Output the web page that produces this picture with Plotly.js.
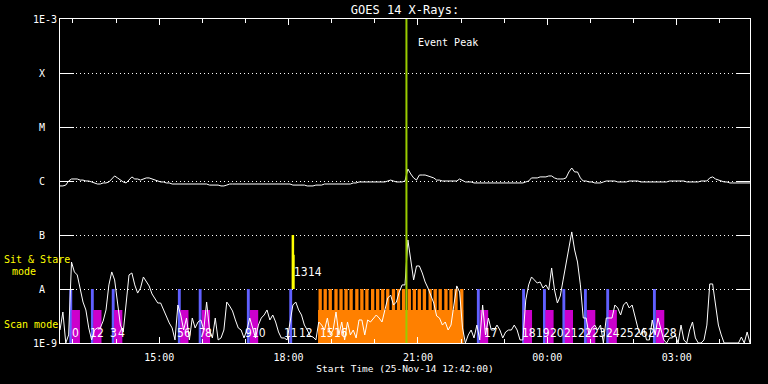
<!DOCTYPE html>
<html>
<head>
<meta charset="utf-8">
<script src="https://cdn.plot.ly/plotly-3.0.1.min.js"></script>
<style>html,body{margin:0;padding:0;background:#000;}#chart{width:768px;height:384px;}</style>
</head>
<body>
<div id="chart"></div>
<script>
// ---- time stamps (HH:MM, 25-Nov-14 12:42 .. 26-Nov-14 04:42), 4-minute samples
const times = [
'12:42','12:46','12:50','12:54','12:58','13:02','13:06','13:10','13:14','13:18','13:22','13:26','13:30','13:34','13:38',
'13:42','13:46','13:50','13:54','13:58','14:02','14:06','14:10','14:14','14:18','14:22','14:26','14:30','14:34','14:38',
'14:42','14:46','14:50','14:54','14:58','15:02','15:06','15:10','15:14','15:18','15:22','15:26','15:30','15:34','15:38',
'15:42','15:46','15:50','15:54','15:58','16:02','16:06','16:10','16:14','16:18','16:22','16:26','16:30','16:34','16:38',
'16:42','16:46','16:50','16:54','16:58','17:02','17:06','17:10','17:14','17:18','17:22','17:26','17:30','17:34','17:38',
'17:42','17:46','17:50','17:54','17:58','18:02','18:06','18:10','18:14','18:18','18:22','18:26','18:30','18:34','18:38',
'18:42','18:46','18:50','18:54','18:58','19:02','19:06','19:10','19:14','19:18','19:22','19:26','19:30','19:34','19:38',
'19:42','19:46','19:50','19:54','19:58','20:02','20:06','20:10','20:14','20:18','20:22','20:26','20:30','20:34','20:38',
'20:42','20:46','20:50','20:54','20:58','21:02','21:06','21:10','21:14','21:18','21:22','21:26','21:30','21:34','21:38',
'21:42','21:46','21:50','21:54','21:58','22:02','22:06','22:10','22:14','22:18','22:22','22:26','22:30','22:34','22:38',
'22:42','22:46','22:50','22:54','22:58','23:02','23:06','23:10','23:14','23:18','23:22','23:26','23:30','23:34','23:38',
'23:42','23:46','23:50','23:54','23:58','00:02','00:06','00:10','00:14','00:18','00:22','00:26','00:30','00:34','00:38',
'00:42','00:46','00:50','00:54','00:58','01:02','01:06','01:10','01:14','01:18','01:22','01:26','01:30','01:34','01:38',
'01:42','01:46','01:50','01:54','01:58','02:02','02:06','02:10','02:14','02:18','02:22','02:26','02:30','02:34','02:38',
'02:42','02:46','02:50','02:54','02:58','03:02','03:06','03:10','03:14','03:18','03:22','03:26','03:30','03:34','03:38',
'03:42','03:46','03:50','03:54','03:58','04:02','04:06','04:10','04:14','04:18','04:22','04:26','04:30','04:34','04:38',
'04:42'
];

// ---- GOES 1-8 A (long) channel, W/m^2
const longChannel = [
8.1e-7,8.1e-7,8.4e-7,1.0e-6,1.09e-6,1.09e-6,1.09e-6,1.04e-6,1.04e-6,1.0e-6,
1.0e-6,9.6e-7,9.2e-7,8.8e-7,8.8e-7,9.2e-7,9.2e-7,9.6e-7,1.09e-6,1.24e-6,
1.14e-6,1.04e-6,9.6e-7,9.2e-7,1.04e-6,1.19e-6,1.09e-6,1.09e-6,1.04e-6,1.09e-6,
1.14e-6,1.14e-6,1.09e-6,1.04e-6,1.0e-6,9.6e-7,9.6e-7,9.2e-7,9.2e-7,8.8e-7,
8.8e-7,8.8e-7,8.8e-7,8.8e-7,8.8e-7,8.8e-7,8.8e-7,8.8e-7,8.8e-7,8.8e-7,
8.8e-7,8.8e-7,8.4e-7,8.4e-7,8.4e-7,8.4e-7,8.1e-7,8.1e-7,8.4e-7,8.8e-7,
8.8e-7,8.8e-7,8.8e-7,8.8e-7,8.8e-7,8.8e-7,8.8e-7,8.8e-7,8.8e-7,8.8e-7,
8.8e-7,8.8e-7,8.8e-7,8.8e-7,8.8e-7,8.8e-7,8.8e-7,8.8e-7,8.8e-7,8.8e-7,
8.8e-7,8.4e-7,8.4e-7,8.4e-7,8.4e-7,8.4e-7,8.1e-7,8.1e-7,8.1e-7,8.4e-7,
8.4e-7,8.4e-7,8.8e-7,8.8e-7,8.8e-7,8.8e-7,8.8e-7,8.8e-7,8.8e-7,8.8e-7,
8.8e-7,8.8e-7,9.2e-7,9.2e-7,9.6e-7,9.6e-7,9.6e-7,9.6e-7,9.6e-7,9.6e-7,
9.6e-7,9.6e-7,9.6e-7,9.6e-7,1.0e-6,1.04e-6,1.0e-6,9.6e-7,9.6e-7,9.6e-7,
1.0e-6,1.67e-6,1.35e-6,1.14e-6,1.04e-6,1.29e-6,1.29e-6,1.29e-6,1.24e-6,1.19e-6,
1.14e-6,1.04e-6,1.04e-6,1.0e-6,1.0e-6,1.0e-6,1.0e-6,1.0e-6,1.0e-6,1.09e-6,
1.04e-6,9.6e-7,9.6e-7,9.6e-7,9.2e-7,9.2e-7,9.2e-7,9.2e-7,9.2e-7,9.2e-7,
9.2e-7,9.2e-7,9.2e-7,9.2e-7,9.2e-7,9.2e-7,9.2e-7,9.2e-7,9.2e-7,9.2e-7,
9.2e-7,9.2e-7,9.6e-7,1.0e-6,1.14e-6,1.14e-6,1.14e-6,1.19e-6,1.19e-6,1.19e-6,
1.24e-6,1.24e-6,1.14e-6,1.09e-6,1.09e-6,1.09e-6,1.14e-6,1.47e-6,1.74e-6,1.47e-6,
1.47e-6,1.14e-6,1.0e-6,1.0e-6,9.6e-7,9.6e-7,9.2e-7,9.2e-7,9.2e-7,9.6e-7,
1.0e-6,1.0e-6,1.0e-6,1.0e-6,9.6e-7,9.6e-7,9.6e-7,9.6e-7,1.0e-6,1.0e-6,
1.0e-6,1.0e-6,9.6e-7,9.6e-7,9.6e-7,9.6e-7,9.6e-7,9.6e-7,9.6e-7,9.6e-7,
9.6e-7,9.6e-7,1.0e-6,1.0e-6,1.0e-6,1.0e-6,1.0e-6,1.0e-6,9.6e-7,9.6e-7,
9.6e-7,9.6e-7,9.6e-7,1.0e-6,1.0e-6,1.0e-6,1.14e-6,1.19e-6,1.09e-6,1.04e-6,
1.0e-6,9.6e-7,9.6e-7,9.2e-7,9.2e-7,9.2e-7,9.2e-7,9.2e-7,9.2e-7,9.2e-7,9.2e-7
];

// ---- GOES 0.5-4 A (short) channel, W/m^2
const shortChannel = [
1.74e-9,3.75e-9,1.0e-9,1.41e-9,3.16e-8,2.07e-8,1.82e-8,1.04e-8,5.74e-9,4.09e-9,
1.90e-9,1.14e-9,1.74e-9,1.90e-9,1.90e-9,2.55e-9,4.09e-9,1.19e-8,2.07e-8,1.47e-8,
5.05e-9,2.15e-9,1.60e-9,6.25e-9,1.82e-8,1.98e-8,1.19e-8,8.4e-9,1.04e-8,1.67e-8,
1.35e-8,1.14e-8,8.1e-9,6.53e-9,5.50e-9,5.50e-9,4.09e-9,3.16e-9,2.35e-9,1.90e-9,
1.14e-9,5.05e-9,3.30e-9,1.74e-9,2.90e-9,1.14e-9,2.90e-9,1.90e-9,2.45e-9,2.67e-9,
1.74e-9,5.74e-9,1.74e-9,1.24e-9,2.90e-9,1.14e-9,1.24e-9,1.74e-9,5.74e-9,4.84e-9,
3.92e-9,2.67e-9,1.90e-9,1.74e-9,1.24e-9,1.74e-9,2.90e-9,1.90e-9,1.24e-9,2.15e-9,
2.90e-9,3.30e-9,4.09e-9,2.67e-9,3.30e-9,2.45e-9,1.60e-9,1.24e-9,1.24e-9,1.14e-9,
2.67e-9,5.05e-9,5.74e-9,4.09e-9,3.30e-9,2.15e-9,1.74e-9,1.35e-9,1.29e-9,1.14e-9,
2.45e-9,2.15e-9,1.74e-9,2.90e-9,1.41e-9,1.74e-9,3.75e-9,1.41e-9,2.45e-9,1.14e-9,
2.45e-9,1.41e-9,1.74e-9,1.24e-9,2.67e-9,2.67e-9,1.41e-9,2.67e-9,2.45e-9,2.90e-9,
3.30e-9,2.90e-9,2.45e-9,4.09e-9,6.81e-9,7.7e-9,5.05e-9,5.74e-9,8.8e-9,1.19e-8,
1.19e-8,8.1e-8,3.44e-8,1.47e-8,2.67e-8,2.67e-8,1.98e-8,1.35e-8,1.04e-8,7.4e-9,
5.50e-9,3.16e-9,2.90e-9,2.15e-9,2.45e-9,1.74e-9,2.15e-9,5.05e-9,1.14e-8,8.8e-9,
1.90e-9,1.0e-9,1.41e-9,1.74e-9,1.24e-9,2.15e-9,1.14e-9,5.05e-9,1.41e-9,2.90e-9,
1.74e-9,1.74e-9,2.15e-9,1.74e-9,1.24e-9,1.60e-9,1.74e-9,1.74e-9,2.15e-9,1.74e-9,
1.14e-9,1.14e-9,6.25e-9,1.19e-8,1.67e-8,1.47e-8,1.29e-8,1.35e-8,1.04e-8,1.19e-8,
9.6e-9,2.45e-8,9.6e-9,5.50e-9,7.4e-9,1.47e-8,3.16e-8,5.74e-8,1.14e-7,5.27e-8,
3.16e-8,1.19e-8,2.90e-9,2.90e-9,1.41e-9,1.90e-9,2.15e-9,1.74e-9,2.15e-9,1.0e-9,
2.90e-9,2.90e-9,2.90e-9,5.05e-9,4.45e-9,3.30e-9,5.05e-9,5.74e-9,4.45e-9,5.05e-9,
2.90e-9,1.90e-9,1.41e-9,1.90e-9,1.14e-9,1.14e-9,2.67e-9,1.41e-9,2.90e-9,1.74e-9,
1.14e-9,1.0e-9,1.24e-9,1.24e-9,1.41e-9,1.0e-9,2.15e-9,1.14e-9,1.0e-9,1.74e-9,
2.45e-9,1.24e-9,1.0e-9,1.0e-9,1.14e-9,2.15e-9,1.24e-8,1.24e-8,5.05e-9,2.15e-9,
1.41e-9,1.0e-9,1.0e-9,1.0e-9,1.0e-9,1.0e-9,1.0e-9,1.29e-9,1.0e-9,1.60e-9,1.0e-9
];

// ---- observation bars (centre times, HH:MM)
const blueTimes = ['12:57','13:27','13:56','15:28','15:57','17:04','18:03','22:24','23:27','23:56','00:23','00:53','01:24','02:29'];
const blueTop = [1e-8,1e-8,1e-8,1e-8,1e-8,1e-8,1e-8,1e-8,1e-8,1e-8,1e-8,1e-8,1e-8,1e-8];
const blueWidthMin = 4;

const magentaTimes = ['13:04','13:34','14:03','15:35','16:05','17:12','22:32','23:33','00:03','00:30','01:01','01:31','02:37'];
const magentaTop = [4.1e-9,4.1e-9,4.1e-9,4.1e-9,4.1e-9,4.1e-9,4.1e-9,4.1e-9,4.1e-9,4.1e-9,4.1e-9,4.1e-9,4.1e-9];
const magentaWidthMin = 11.5;

const yellowTimes = ['18:06','18:07'];
const yellowBottom = [1e-8,1e-8];
const yellowTop = [1e-7,4.3e-8];
const yellowWidthMin = [3.5,3];

const orangeBlockTime = ['20:22'];
const orangeBlockTop = [4.1e-9];
const orangeBlockWidthMin = 202;

const orangeSpikeTimes = ['18:44','18:51','18:58','19:06','19:13','19:20','19:27','19:35','19:42','19:49','19:57','20:04','20:11','20:18',
  '20:26','20:33','20:40','20:48','20:55','21:02','21:09','21:17','21:24','21:31','21:39','21:46','21:53','22:01'];
const orangeSpikeTop = 1e-8;
const orangeSpikeWidthMin = 4.6;

const eventPeakTime = '20:44';

// ---- observation number labels
const labelTexts = ['0','1','2','3','4','5','6','7','8','9','10','11','12','13','14','15','16','17','18','19','20','21','22','23','24','25','26','27','28'];
const labelTimes = ['13:03','13:28','13:38','13:57','14:07','15:30','15:40','16:00','16:09','17:04','17:19','18:03','18:24','18:17','18:37','18:53','19:13',
  '22:42','23:35','23:54','00:13','00:33','00:52','01:12','01:31','01:51','02:10','02:30','02:51'];
const labelLevels = [1.5e-9,1.5e-9,1.5e-9,1.5e-9,1.5e-9,1.5e-9,1.5e-9,1.5e-9,1.5e-9,1.5e-9,1.5e-9,1.5e-9,1.5e-9,2.1e-8,2.1e-8,1.5e-9,1.5e-9,
  1.5e-9,1.5e-9,1.5e-9,1.5e-9,1.5e-9,1.5e-9,1.5e-9,1.5e-9,1.5e-9,1.5e-9,1.5e-9,1.5e-9];

// ---- axis labels
const yTickVals = [1e-9,1e-8,1e-7,1e-6,1e-5,1e-4,1e-3];
const yTickText = ['1E-9','A\u00a0\u00a0','B\u00a0\u00a0','C\u00a0\u00a0','M\u00a0\u00a0','X\u00a0\u00a0','1E-3'];

function toDate(hm) {
  const h = parseInt(hm.slice(0, 2), 10);
  return (h >= 12 ? '2014-11-25 ' : '2014-11-26 ') + hm;
}
const MIN = 60000;
const FONT = 'DejaVu Sans Mono';
const NUMFONT = 'Liberation Sans Narrow, DejaVu Sans Condensed, DejaVu Sans Mono';

const traces = [
  { type: 'bar', x: orangeBlockTime.map(toDate), y: orangeBlockTop, width: orangeBlockTime.map(() => orangeBlockWidthMin * MIN),
    marker: { color: '#ff8000', line: { width: 0 } } },
  { type: 'bar', x: orangeSpikeTimes.map(toDate), y: orangeSpikeTimes.map(() => orangeSpikeTop), width: orangeSpikeTimes.map(() => orangeSpikeWidthMin * MIN),
    marker: { color: '#ff8000', line: { width: 0 } } },
  { type: 'bar', x: blueTimes.map(toDate), y: blueTop, width: blueTimes.map(() => blueWidthMin * MIN),
    marker: { color: '#6060ff', line: { width: 0 } } },
  { type: 'bar', x: magentaTimes.map(toDate), y: magentaTop, width: magentaTimes.map(() => magentaWidthMin * MIN),
    marker: { color: '#cc00cc', line: { width: 0 } } },
  { type: 'bar', x: yellowTimes.map(toDate), base: yellowBottom, y: yellowTop.map((t, i) => t - yellowBottom[i]),
    width: yellowWidthMin.map(w => w * MIN), marker: { color: '#ffff00', line: { width: 0 } } },
  { type: 'scatter', mode: 'lines', x: times.map(toDate), y: longChannel, line: { color: '#ffffff', width: 1 } },
  { type: 'scatter', mode: 'lines', x: times.map(toDate), y: shortChannel, line: { color: '#ffffff', width: 1 } }
];

const annotations = labelTexts.map((t, i) => ({
  x: toDate(labelTimes[i]), y: Math.log10(labelLevels[i]), xref: 'x', yref: 'y', text: t, showarrow: false,
  font: { family: NUMFONT, size: 12, color: '#ffffff' }, xanchor: 'center', yanchor: 'middle', borderpad: 0
}));
annotations.push(
  { x: toDate(eventPeakTime), y: 0.926, xref: 'x', yref: 'paper', text: 'Event Peak', showarrow: false, xanchor: 'left', xshift: 10,
    yanchor: 'middle', font: { family: FONT, size: 10, color: '#ffffff' } },
  { x: -0.0841, y: 0.259, xref: 'paper', yref: 'paper', text: 'Sit & Stare', showarrow: false, xanchor: 'left', yanchor: 'middle',
    font: { family: FONT, size: 10, color: '#ffff00' } },
  { x: -0.0522, y: 0.222, xref: 'paper', yref: 'paper', text: 'mode', showarrow: false, xanchor: 'center', yanchor: 'middle',
    font: { family: FONT, size: 10, color: '#ffff00' } },
  { x: -0.0841, y: 0.0586, xref: 'paper', yref: 'paper', text: 'Scan mode', showarrow: false, xanchor: 'left', yanchor: 'middle',
    font: { family: FONT, size: 10, color: '#ffff00' } }
);

const layout = {
  width: 768, height: 384,
  paper_bgcolor: '#000000', plot_bgcolor: '#000000',
  margin: { l: 60, r: 18, t: 19, b: 41, pad: 0 },
  showlegend: false, barmode: 'overlay', hovermode: false,
  font: { family: FONT, size: 10, color: '#ffffff' },
  title: { text: 'GOES 14 X-Rays:', x: 0.5, xref: 'paper', y: 0.975, yref: 'container', yanchor: 'middle',
    font: { family: FONT, size: 12, color: '#ffffff' } },
  xaxis: {
    type: 'date', range: ['2014-11-25 12:42', '2014-11-26 04:42'],
    tick0: '2014-11-25 00:00', dtick: 3 * 3600000, tickformat: '%H:%M',
    ticks: 'inside', ticklen: 6, tickwidth: 1, tickcolor: '#ffffff',
    minor: { tick0: '2014-11-25 00:00', dtick: 3600000, ticks: 'inside', ticklen: 4, tickcolor: '#ffffff', showgrid: false },
    showline: true, linecolor: '#ffffff', linewidth: 1, mirror: 'ticks', showgrid: false, zeroline: false,
    tickfont: { family: FONT, size: 10, color: '#ffffff' }, ticklabelstandoff: 5,
    title: { text: 'Start Time (25-Nov-14 12:42:00)', font: { family: FONT, size: 9.5, color: '#ffffff' }, standoff: 3 },
    automargin: false
  },
  yaxis: {
    type: 'log', range: [-9, -3], tickvals: yTickVals, ticktext: yTickText,
    ticks: 'inside', ticklen: 14, tickwidth: 1, tickcolor: '#ffffff',
    showline: true, linecolor: '#ffffff', linewidth: 1, mirror: 'ticks',
    showgrid: true, gridcolor: '#ffffff', gridwidth: 1, griddash: '1px,3px', zeroline: false,
    tickfont: { family: FONT, size: 10, color: '#ffffff' }, automargin: false
  },
  shapes: [
    { type: 'line', xref: 'x', yref: 'paper', x0: toDate(eventPeakTime), x1: toDate(eventPeakTime), y0: 0, y1: 1,
      line: { color: '#99cc00', width: 2 }, layer: 'above' }
  ],
  annotations: annotations
};

Plotly.newPlot('chart', traces, layout, { staticPlot: true, displayModeBar: false });
</script>
</body>
</html>
